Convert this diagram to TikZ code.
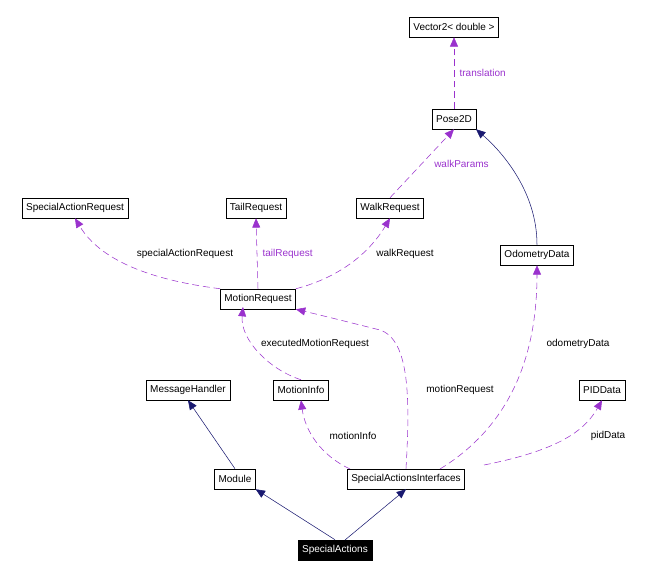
\documentclass[tikz,border=0pt]{standalone}
\usepackage{fontspec}
\setmainfont{Liberation Sans}
\usetikzlibrary{arrows.meta}
\definecolor{dep}{HTML}{9A32CD}
\definecolor{inh}{HTML}{191970}
\begin{document}
\begin{tikzpicture}[x=0.75pt,y=-0.75pt,font=\fontsize{7.5}{9}\selectfont,
 box/.style={draw,fill=white,minimum height=15pt,inner xsep=3pt,inner ysep=0pt},
 use/.style={dep,dashed,dash pattern=on 5pt off 3pt,-{Triangle[length=7pt,width=6pt]}},
 isa/.style={inh,-{Triangle[length=7pt,width=6pt]}},
 lbl/.style={inner sep=1pt}]
\useasboundingbox (0,0) rectangle (661,580);
\node[box] (vec) at (454,27) {Vector2< double >};
\node[box] (pose) at (454,119) {Pose2D};
\node[box] (sar) at (75,208) {SpecialActionRequest};
\node[box] (tail) at (256,208) {TailRequest};
\node[box] (walk) at (390,208) {WalkRequest};
\node[box] (odo) at (537,255) {OdometryData};
\node[box] (mr) at (258,299) {MotionRequest};
\node[box] (mh) at (188,390) {MessageHandler};
\node[box] (mi) at (301,390) {MotionInfo};
\node[box] (pid) at (602,390) {PIDData};
\node[box] (mod) at (235,479) {Module};
\node[box] (sai) at (406,479) {SpecialActionsInterfaces};
\node[box,fill=black,text=white] (sa) at (335,550) {SpecialActions};
\coordinate (sa2) at (345,540);

\draw[use] (pose.north) -- (vec.south) node[lbl,midway,right=3pt] {translation};
\draw[use] (walk.north) -- (pose.south) node[lbl,midway,right=8pt] {walkParams};
\draw[isa] (odo.north) .. controls (537,190) and (500,150) .. (pose.south east);
\draw[use] (mr.north west) .. controls (150,280) and (100,260) .. (sar.south);
\node[lbl] at (185,254) {specialActionRequest};
\draw[use] (mr.north) -- (tail.south) node[lbl,midway,right=3pt] {tailRequest};
\draw[use] (mr.north east) .. controls (330,280) and (365,260) .. (walk.south);
\node[lbl] at (405,254) {walkRequest};
\draw[use] (mi.north) .. controls (270,370) and (240,340) .. (243,307);
\node[lbl] at (315,344) {executedMotionRequest};
\draw[use] (sai.north) .. controls (410,400) and (410,340) .. (380,330) .. controls (340,320) and (320,315) .. (mr.south east);
\node[lbl] at (460,390) {motionRequest};
\draw[use] (350,469) .. controls (320,455) and (305,430) .. (mi.south);
\node[lbl] at (353,436) {motionInfo};
\draw[use] (440,469) .. controls (520,420) and (537,340) .. (odo.south);
\node[lbl] at (578,344) {odometryData};
\draw[use] (484,465) .. controls (560,450) and (585,430) .. (pid.south);
\node[lbl] at (608,436) {pidData};
\draw[isa] (mod.north) -- (mh.south);
\draw[isa] (sa.north) -- (mod.south east);
\draw[isa] (sa2) -- (sai.south);
\end{tikzpicture}
\end{document}
